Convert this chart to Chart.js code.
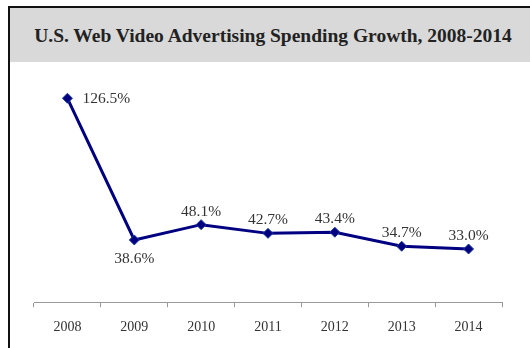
<!DOCTYPE html>
<html>
<head>
<meta charset="utf-8">
<script src="https://cdn.jsdelivr.net/npm/chart.js@4.4.1/dist/chart.umd.min.js"></script>
<style>
  body { margin: 0; background: #fff; width: 530px; height: 348px; overflow: hidden; position: relative; }
  #frame { position: absolute; left: 8px; top: 6px; width: 540px; height: 360px; border: 2px solid #111; box-sizing: border-box; }
  #title { position: absolute; left: 10px; top: 8px; width: 514px; height: 54px; padding-left: 6px; background: #d9d9d9;
           font: bold 19.5px "Liberation Serif", "DejaVu Serif", serif; color: #222; text-align: center; line-height: 55px; }
  #wrap { position: absolute; left: 0; top: 62px; width: 530px; height: 298px; }
</style>
</head>
<body>
<div id="frame"></div>
<div id="title">U.S. Web Video Advertising Spending Growth, 2008-2014</div>
<div id="wrap"><canvas id="growth"></canvas></div>
<script>
const years = ["2008", "2009", "2010", "2011", "2012", "2013", "2014"];
const growthRates = [126.5, 38.6, 48.1, 42.7, 43.4, 34.7, 33.0];
// where each value label sits relative to its point
const labelSides = ["right", "below", "above", "above", "above", "above", "above"];

const serif = "'Liberation Serif', 'DejaVu Serif', serif";

const valueLabels = {
  id: "valueLabels",
  afterDatasetsDraw(chart) {
    const ctx = chart.ctx;
    const points = chart.getDatasetMeta(0).data;
    ctx.save();
    ctx.font = "15.5px " + serif;
    ctx.fillStyle = "#333";
    ctx.textBaseline = "middle";
    points.forEach((pt, i) => {
      const text = growthRates[i].toFixed(1) + "%";
      if (labelSides[i] === "right") {
        ctx.textAlign = "left";
        ctx.fillText(text, pt.x + 15, pt.y + 1);
      } else if (labelSides[i] === "below") {
        ctx.textAlign = "center";
        ctx.fillText(text, pt.x, pt.y + 19);
      } else {
        ctx.textAlign = "center";
        ctx.fillText(text, pt.x, pt.y - 13);
      }
    });
    ctx.restore();
  }
};

new Chart(document.getElementById("growth"), {
  type: "line",
  data: {
    labels: years,
    datasets: [{
      data: growthRates,
      borderColor: "#000080",
      borderWidth: 3,
      pointStyle: "rectRot",
      pointRadius: 5,
      pointBackgroundColor: "#000080",
      pointBorderColor: "#1c3f9a",
      pointBorderWidth: 1,
      tension: 0,
      clip: false
    }]
  },
  options: {
    responsive: true,
    maintainAspectRatio: false,
    animation: false,
    layout: { autoPadding: false, padding: { left: 34, right: 28, top: 0, bottom: 12 } },
    plugins: { legend: { display: false }, tooltip: { enabled: false } },
    scales: {
      x: {
        offset: true,
        grid: { display: true, drawOnChartArea: false, offset: true, tickLength: 5, color: "#999" },
        border: { color: "#999", width: 1 },
        ticks: { color: "#333", padding: 12, font: { family: serif, size: 14 } }
      },
      y: {
        display: false,
        min: 0,
        max: 149
      }
    }
  },
  plugins: [valueLabels]
});
</script>
</body>
</html>
